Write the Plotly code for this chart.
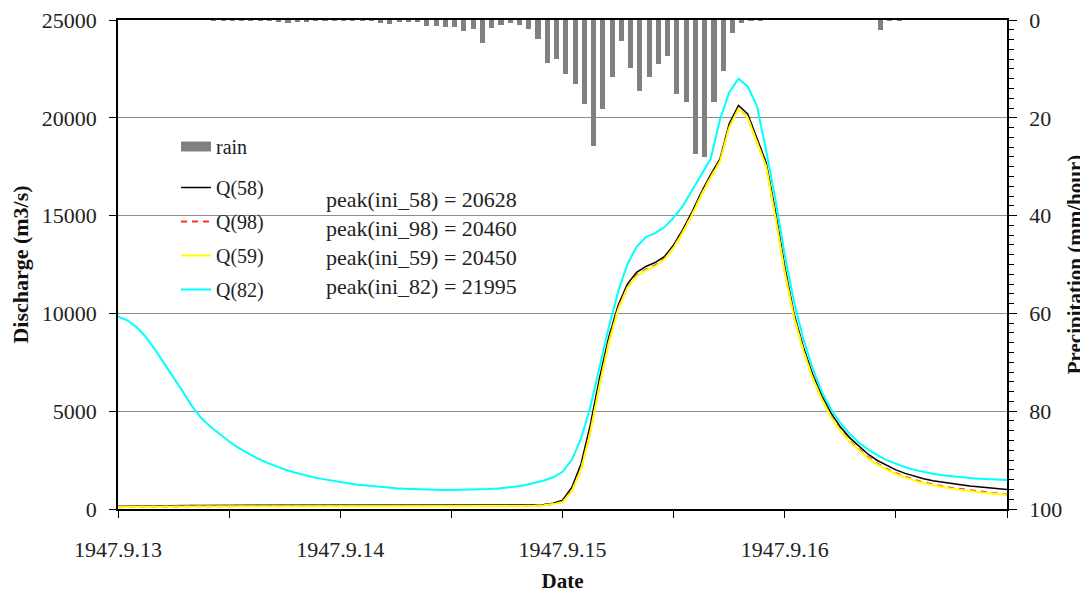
import plotly.graph_objects as go
import pandas as pd

# ---------------- data ----------------
start = "1947-09-13 00:00"
n_hours = 97

rain = [0, 0, 0, 0, 0, 0, 0, 0, 0, 0,
        0.2, 0.2, 0.2, 0.2, 0.2, 0.2, 0.2, 0.4, 0.6, 0.5,
        0.3, 0.2, 0.2, 0.2, 0.2, 0.2, 0.2, 0.2, 0.6, 0.8,
        0.3, 0.3, 0.5, 1.2, 1.3, 1.4, 1.5, 2.2, 1.8, 4.8,
        1.6, 1.0, 0.7, 1.0, 1.9, 3.9, 8.8, 8.0, 11.0, 13.1,
        17.2, 25.8, 18.3, 11.7, 4.2, 9.9, 14.5, 11.7, 8.9, 7.3,
        15.1, 16.7, 27.3, 28.1, 16.8, 10.4, 2.7, 0.7, 0.2, 0.1,
        0, 0, 0, 0, 0, 0, 0, 0, 0, 0,
        0, 0, 2.0, 0.2, 0.2, 0, 0, 0, 0, 0,
        0, 0, 0, 0, 0, 0]

q58 = [140, 150, 160, 165, 170, 175, 180, 180, 185, 185,
       185, 190, 190, 190, 190, 190, 190, 190, 190, 190,
       190, 190, 190, 190, 190, 185, 185, 185, 185, 185,
       180, 180, 180, 180, 180, 180, 180, 180, 180, 180,
       180, 180, 180, 185, 190, 200, 230, 300,
       450, 1100, 2300, 4300, 6700, 8800, 10400, 11500, 12100, 12400,
       12600, 12900, 13500, 14300, 15200, 16200, 17100, 17900, 19700, 20628,
       20200, 19000, 17700, 15200, 12400, 10000, 8300, 6900, 5800, 4900,
       4200, 3650, 3200, 2800, 2480, 2220, 2000, 1820, 1670, 1550,
       1450, 1370, 1300, 1240, 1180, 1130, 1090, 1040, 1000]

q98 = [120, 125, 130, 135, 140, 145, 150, 150, 150, 150,
       150, 150, 150, 150, 150, 150, 150, 150, 150, 150,
       150, 150, 150, 150, 150, 150, 150, 150, 150, 150,
       150, 150, 150, 150, 150, 150, 150, 150, 150, 150,
       150, 150, 150, 155, 160, 170, 200, 260,
       370, 950, 2050, 3950, 6350, 8550, 10250, 11350, 11950, 12250,
       12450, 12800, 13400, 14200, 15100, 16100, 17000, 17800, 19550, 20460,
       20020, 18820, 17520, 14950, 12150, 9850, 8150, 6750, 5650, 4750,
       4050, 3500, 3050, 2650, 2320, 2050, 1830, 1640, 1490, 1360,
       1250, 1160, 1080, 1010, 950, 890, 840, 790, 740]

q59 = [110, 115, 120, 125, 130, 135, 140, 140, 140, 140,
       140, 140, 140, 140, 140, 140, 140, 140, 140, 140,
       140, 140, 140, 140, 140, 140, 140, 140, 140, 140,
       140, 140, 140, 140, 140, 140, 140, 140, 140, 140,
       140, 140, 140, 145, 150, 160, 190, 250,
       350, 900, 2000, 3900, 6300, 8500, 10200, 11300, 11900, 12200,
       12400, 12750, 13350, 14150, 15050, 16050, 16950, 17750, 19500, 20450,
       20000, 18800, 17500, 14900, 12100, 9800, 8100, 6700, 5600, 4700,
       4000, 3450, 3000, 2600, 2280, 2010, 1790, 1600, 1450, 1320,
       1210, 1120, 1040, 970, 910, 860, 810, 770, 730]

q82 = [9850, 9650, 9300, 8800, 8150, 7450, 6750, 6000, 5250, 4650,
       4200, 3800, 3450, 3130, 2850, 2600, 2380, 2190, 2020, 1880,
       1750, 1640, 1540, 1450, 1370, 1300, 1240, 1190, 1140, 1100,
       1060, 1030, 1010, 990, 980, 970, 970, 975, 985, 1000,
       1020, 1050, 1090, 1150, 1230, 1330, 1460, 1620,
       1900, 2500, 3600, 5200, 7200, 9300, 11100, 12500, 13400, 13900,
       14100, 14400, 14900, 15500, 16300, 17100, 17900, 19900, 21300, 21995,
       21600, 20600, 18300, 15800, 13000, 10600, 8700, 7200, 6000, 5100,
       4400, 3850, 3400, 3050, 2750, 2500, 2300, 2140, 2000, 1890,
       1800, 1730, 1670, 1620, 1580, 1550, 1520, 1500, 1480]

day_labels = ["1947.9.13", "1947.9.14", "1947.9.15", "1947.9.16"]
series = [("Q(58)", "58", q58), ("Q(98)", "98", q98), ("Q(59)", "59", q59), ("Q(82)", "82", q82)]

# ---------------- figure ----------------
times = pd.date_range(start, periods=n_hours, freq="h")
rain_times = times[:len(rain)]
HOUR_MS = 3600 * 1000

FONT = "Liberation Serif, Times New Roman, serif"
TXT = "#222222"

# page body adds an 8px offset; margins compensate so the plot area sits at x 118-1007, y 20-509
OFF = 8
L, T, R, B = 118, 20, 1007, 509
W, H = 1088, 591
PW, PH = R - L, B - T

def px(x):
    return (x - L) / PW

def py(y):
    return 1 - (y - T) / PH

fig = go.Figure()

fig.add_trace(go.Bar(
    x=rain_times, y=rain, name="rain", yaxis="y",
    marker=dict(color="#808080", line=dict(width=0)),
    width=0.55 * HOUR_MS, offset=0.08 * HOUR_MS,
    showlegend=False, legendgroup="rain",
))
# legend entry for rain drawn as a wide grey block
fig.add_trace(go.Scatter(
    x=[None], y=[None], name="rain", yaxis="y", mode="lines",
    line=dict(color="#808080", width=14), legendgroup="rain", legend="legend",
))

styles = {
    "Q(58)": dict(color="black", width=1.5),
    "Q(98)": dict(color="#ff3030", width=2, dash="6px,5px"),
    "Q(59)": dict(color="#ffff00", width=2),
    "Q(82)": dict(color="#00ffff", width=2),
}
for name, code, q in series:
    fig.add_trace(go.Scatter(
        x=times, y=q, name=name, yaxis="y2", mode="lines",
        line=styles[name], legendgroup=name, legend="legend2",
    ))

# peak annotations (computed from the series)
ann_y = [199, 228, 257, 286]
for (name, code, q), yy in zip(series, ann_y):
    fig.add_annotation(
        xref="paper", yref="paper",
        x=px(324), y=py(yy),
        xanchor="left", yanchor="middle", showarrow=False,
        text=f"peak(ini_{code}) = {max(q):.0f}",
        font=dict(family=FONT, size=22, color=TXT),
    )

tickvals = [times[0] + pd.Timedelta(hours=12 * k) for k in range(9)]
ticktext = [day_labels[k // 2] if k % 2 == 0 and k // 2 < len(day_labels) else "" for k in range(9)]

legend_common = dict(
    xanchor="left", yanchor="top",
    bgcolor="rgba(255,255,255,0)", borderwidth=0,
    font=dict(family=FONT, size=20, color=TXT),
    tracegroupgap=5, itemwidth=30,
)

fig.update_layout(
    width=W, height=H,
    margin=dict(l=L - OFF, r=W + OFF - R, t=T - OFF, b=H + OFF - B, autoexpand=False),
    paper_bgcolor="white", plot_bgcolor="white",
    font=dict(family=FONT, size=22, color=TXT),
    bargap=0,
    showlegend=True,
    legend=dict(x=px(176), y=py(127), **legend_common),
    legend2=dict(x=px(176), y=py(168), **legend_common),
    xaxis=dict(
        range=[times[0], times[-1]],
        tickvals=tickvals, ticktext=ticktext,
        ticks="outside", ticklen=7, tickcolor="black", tickwidth=1,
        showline=True, linecolor="black", linewidth=1.5, mirror=True,
        showgrid=False, zeroline=False,
        ticklabelstandoff=13,
        tickfont=dict(family=FONT, size=22, color=TXT),
        title=dict(text="<b>Date</b>", standoff=12,
                   font=dict(family=FONT, size=21, color="#111")),
    ),
    yaxis=dict(
        side="right", range=[100, 0], dtick=20,
        ticks="outside", ticklen=8, tickcolor="black",
        minor=dict(dtick=2, ticks="outside", ticklen=5, tickcolor="black"),
        showline=True, linecolor="black", linewidth=1.5,
        showgrid=False, zeroline=False,
        ticklabelstandoff=8, ticklabeloverflow="allow",
        tickfont=dict(family=FONT, size=22, color=TXT),
        title=dict(text="<b>Precipitation (mm/hour)</b>", standoff=6,
                   font=dict(family=FONT, size=21, color="#111")),
    ),
    yaxis2=dict(
        overlaying="y", side="left", range=[0, 25000], dtick=5000, tickformat="d",
        ticks="outside", ticklen=7, tickcolor="black",
        showline=True, linecolor="black", linewidth=1.5,
        showgrid=True, gridcolor="#8c8c8c", gridwidth=1, zeroline=False,
        ticklabelstandoff=8, ticklabeloverflow="allow",
        tickfont=dict(family=FONT, size=22, color=TXT),
        title=dict(text="<b>Discharge (m3/s)</b>", standoff=14,
                   font=dict(family=FONT, size=22, color="#111")),
    ),
    shapes=[dict(
        type="rect", xref="paper", yref="paper", layer="below",
        x0=0.001, x1=px(312),
        y0=py(300), y1=py(125),
        fillcolor="white", line=dict(width=0),
    )],
)

fig.write_html("out.html")
